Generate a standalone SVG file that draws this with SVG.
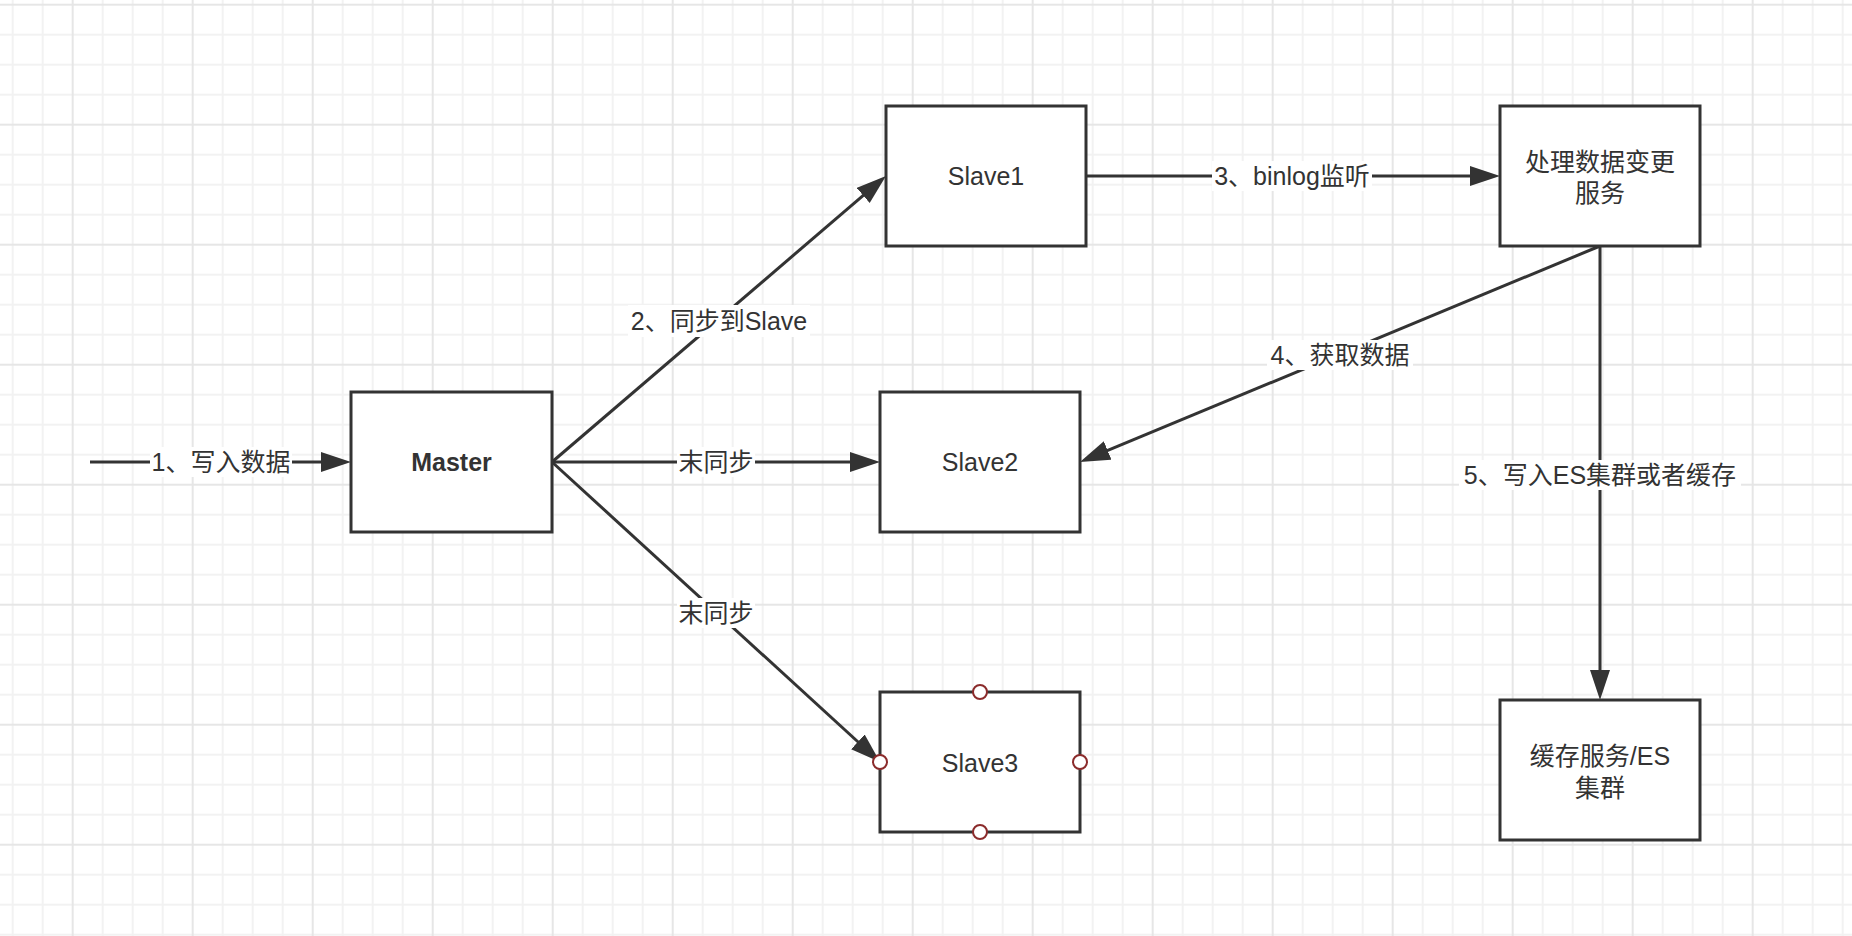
<svg xmlns="http://www.w3.org/2000/svg" width="1852" height="936" viewBox="0 0 1852 936">
  <style>
    .box { fill: #ffffff; stroke: #333333; stroke-width: 3; }
    .edge { fill: none; stroke: #333333; stroke-width: 3; }
    .t { font-family: "Liberation Sans", "Noto Sans CJK SC", sans-serif; font-size: 25px; fill: #333333; text-anchor: middle; }
    .bold { font-weight: bold; }
    .lblbg { fill: #ffffff; }
    .cp { fill: #ffffff; stroke: #8b2b2b; stroke-width: 2; }
  </style>
  <defs>
    <pattern id="grid" patternUnits="userSpaceOnUse" x="-2.3" y="-10.3" width="120" height="120">
      <path d="M15 0V120M45 0V120M105 0V120M0 45H120M0 75H120M0 105H120" stroke="#f2f2f2" stroke-width="2" fill="none"/>
      <path d="M75 0V120M0 15H120" stroke="#e6e6e6" stroke-width="2" fill="none"/>
    </pattern>
    <marker id="arrow" markerUnits="userSpaceOnUse" markerWidth="32" markerHeight="22" refX="24" refY="10" orient="auto">
      <path d="M0,0 L30,10 L0,20 Z" fill="#333333"/>
    </marker>
  </defs>

  <rect x="0" y="0" width="1852" height="936" fill="#ffffff"/>
  <rect x="0" y="0" width="1852" height="936" fill="url(#grid)"/>

  <g id="connectors">
    <path class="edge" d="M90 462 H345" marker-end="url(#arrow)"/>
    <path class="edge" d="M552 462 L881.4 179.9" marker-end="url(#arrow)"/>
    <path class="edge" d="M552 462 H874" marker-end="url(#arrow)"/>
    <path class="edge" d="M552 462 L875.6 758" marker-end="url(#arrow)"/>
    <path class="edge" d="M1086 176 H1494" marker-end="url(#arrow)"/>
    <path class="edge" d="M1600 246 L1085.5 459.7" marker-end="url(#arrow)"/>
    <path class="edge" d="M1600 246 V694" marker-end="url(#arrow)"/>

    <g id="edge-labels">
      <rect class="lblbg" x="150" y="447" width="142" height="30"/>
      <text class="t" x="221" y="471">1、写入数据</text>
      <rect class="lblbg" x="628" y="305" width="182" height="32"/>
      <text class="t" x="719" y="330">2、同步到Slave</text>
      <rect class="lblbg" x="677" y="447" width="78" height="30"/>
      <text class="t" x="716" y="471">末同步</text>
      <rect class="lblbg" x="677" y="598" width="78" height="30"/>
      <text class="t" x="716" y="622">末同步</text>
      <rect class="lblbg" x="1212" y="161" width="160" height="30"/>
      <text class="t" x="1292" y="185">3、binlog监听</text>
      <rect class="lblbg" x="1267" y="340" width="146" height="30"/>
      <text class="t" x="1340" y="364">4、获取数据</text>
      <rect class="lblbg" x="1459" y="460" width="282" height="30"/>
      <text class="t" x="1600" y="484">5、写入ES集群或者缓存</text>
    </g>
  </g>

  <g id="master">
    <rect class="box" x="351" y="392" width="201" height="140"/>
    <text class="t bold" x="451.5" y="471">Master</text>
  </g>

  <g id="slave1">
    <rect class="box" x="886" y="106" width="200" height="140"/>
    <text class="t" x="986" y="185">Slave1</text>
  </g>

  <g id="slave2">
    <rect class="box" x="880" y="392" width="200" height="140"/>
    <text class="t" x="980" y="471">Slave2</text>
  </g>

  <g id="slave3">
    <rect class="box" x="880" y="692" width="200" height="140"/>
    <text class="t" x="980" y="772">Slave3</text>
    <circle class="cp" cx="980" cy="692" r="7"/>
    <circle class="cp" cx="980" cy="832" r="7"/>
    <circle class="cp" cx="880" cy="762" r="7"/>
    <circle class="cp" cx="1080" cy="762" r="7"/>
  </g>

  <g id="processor">
    <rect class="box" x="1500" y="106" width="200" height="140"/>
    <text class="t" x="1600" y="171">处理数据变更</text>
    <text class="t" x="1600" y="202">服务</text>
  </g>

  <g id="cache">
    <rect class="box" x="1500" y="700" width="200" height="140"/>
    <text class="t" x="1600" y="765">缓存服务/ES</text>
    <text class="t" x="1600" y="797">集群</text>
  </g>
</svg>
